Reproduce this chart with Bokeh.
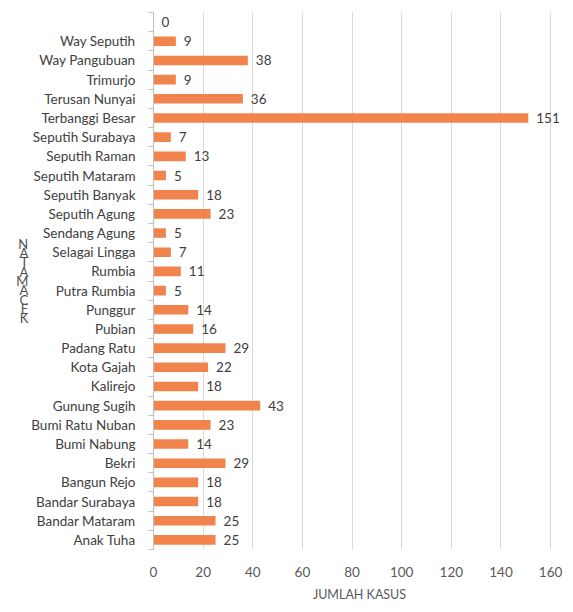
from bokeh.plotting import figure
from bokeh.models import Range1d, FixedTicker, ColumnDataSource
from bokeh.core.properties import value
from bokeh.embed import file_html
from bokeh.resources import INLINE

# top to bottom as shown in the reference
districts = ["", "Way Seputih", "Way Pangubuan", "Trimurjo", "Terusan Nunyai",
             "Terbanggi Besar", "Seputih Surabaya", "Seputih Raman", "Seputih Mataram",
             "Seputih Banyak", "Seputih Agung", "Sendang Agung", "Selagai Lingga",
             "Rumbia", "Putra Rumbia", "Punggur", "Pubian", "Padang Ratu", "Kota Gajah",
             "Kalirejo", "Gunung Sugih", "Bumi Ratu Nuban", "Bumi Nabung", "Bekri",
             "Bangun Rejo", "Bandar Surabaya", "Bandar Mataram", "Anak Tuha"]
cases = [0, 9, 38, 9, 36, 151, 7, 13, 5, 18, 23, 5, 7, 11, 5, 14, 16, 29, 22, 18,
         43, 23, 14, 29, 18, 18, 25, 25]
x_ticks = [0, 20, 40, 60, 80, 100, 120, 140, 160]
x_title = "JUMLAH KASUS"
y_title_letters = ["N", "A", "T", "A", "M", "A", "C", "E", "K"]

n = len(districts)
pos = [n - 1 - i for i in range(n)]
src = ColumnDataSource(dict(y=pos, v=cases, lab=[str(c) for c in cases]))

FONT = "Lato"

p = figure(width=565, height=604, output_backend="svg", toolbar_location=None,
           x_range=Range1d(0, 166), y_range=Range1d(-0.5, n - 0.5),
           min_border_left=153, min_border_right=0, min_border_top=12,
           min_border_bottom=49)
p.outline_line_color = None
p.background_fill_color = "white"

p.hbar(y="y", right="v", left=0, height=0.5, source=src,
       fill_color="#F0844C", line_color=None)
p.text(x="v", y="y", text="lab", source=src, x_offset=8,
       text_baseline="middle", text_align="left",
       text_font=value(FONT), text_font_size="13.5px", text_color="#404040")

# y axis
p.yaxis.ticker = FixedTicker(ticks=pos, minor_ticks=[i - 0.5 for i in range(n + 1)])
p.yaxis.major_label_overrides = {n - 1 - i: d for i, d in enumerate(districts)}
p.yaxis.axis_line_color = "#bfbfbf"
p.yaxis.major_tick_out = 0
p.yaxis.major_tick_in = 0
p.yaxis.minor_tick_out = 5
p.yaxis.minor_tick_in = 0
p.yaxis.minor_tick_line_color = "#bfbfbf"
p.yaxis.major_label_standoff = 13
p.yaxis.major_label_text_font = FONT
p.yaxis.major_label_text_font_size = "13.5px"
p.yaxis.major_label_text_color = "#404040"
p.yaxis.axis_label = "\n".join(y_title_letters)
p.yaxis.axis_label_orientation = "horizontal"
p.yaxis.axis_label_text_font = FONT
p.yaxis.axis_label_text_font_size = "13px"
p.yaxis.axis_label_text_font_style = "normal"
p.yaxis.axis_label_text_color = "#505050"
p.yaxis.axis_label_text_line_height = 0.58
p.yaxis.axis_label_standoff = 0

# x axis
p.xaxis.ticker = FixedTicker(ticks=x_ticks)
p.xaxis.axis_line_color = None
p.xaxis.major_tick_line_color = None
p.xaxis.minor_tick_line_color = None
p.xaxis.major_label_standoff = 11
p.xaxis.major_label_text_font = FONT
p.xaxis.major_label_text_font_size = "13.5px"
p.xaxis.major_label_text_color = "#595959"
p.xaxis.axis_label = x_title
p.xaxis.axis_label_text_font = FONT
p.xaxis.axis_label_text_font_size = "12.5px"
p.xaxis.axis_label_text_font_style = "normal"
p.xaxis.axis_label_text_color = "#595959"
p.xaxis.axis_label_standoff = 7

p.ygrid.grid_line_color = None
p.xgrid.grid_line_color = "#d9d9d9"

open("out.html", "w").write(file_html(p, INLINE))
